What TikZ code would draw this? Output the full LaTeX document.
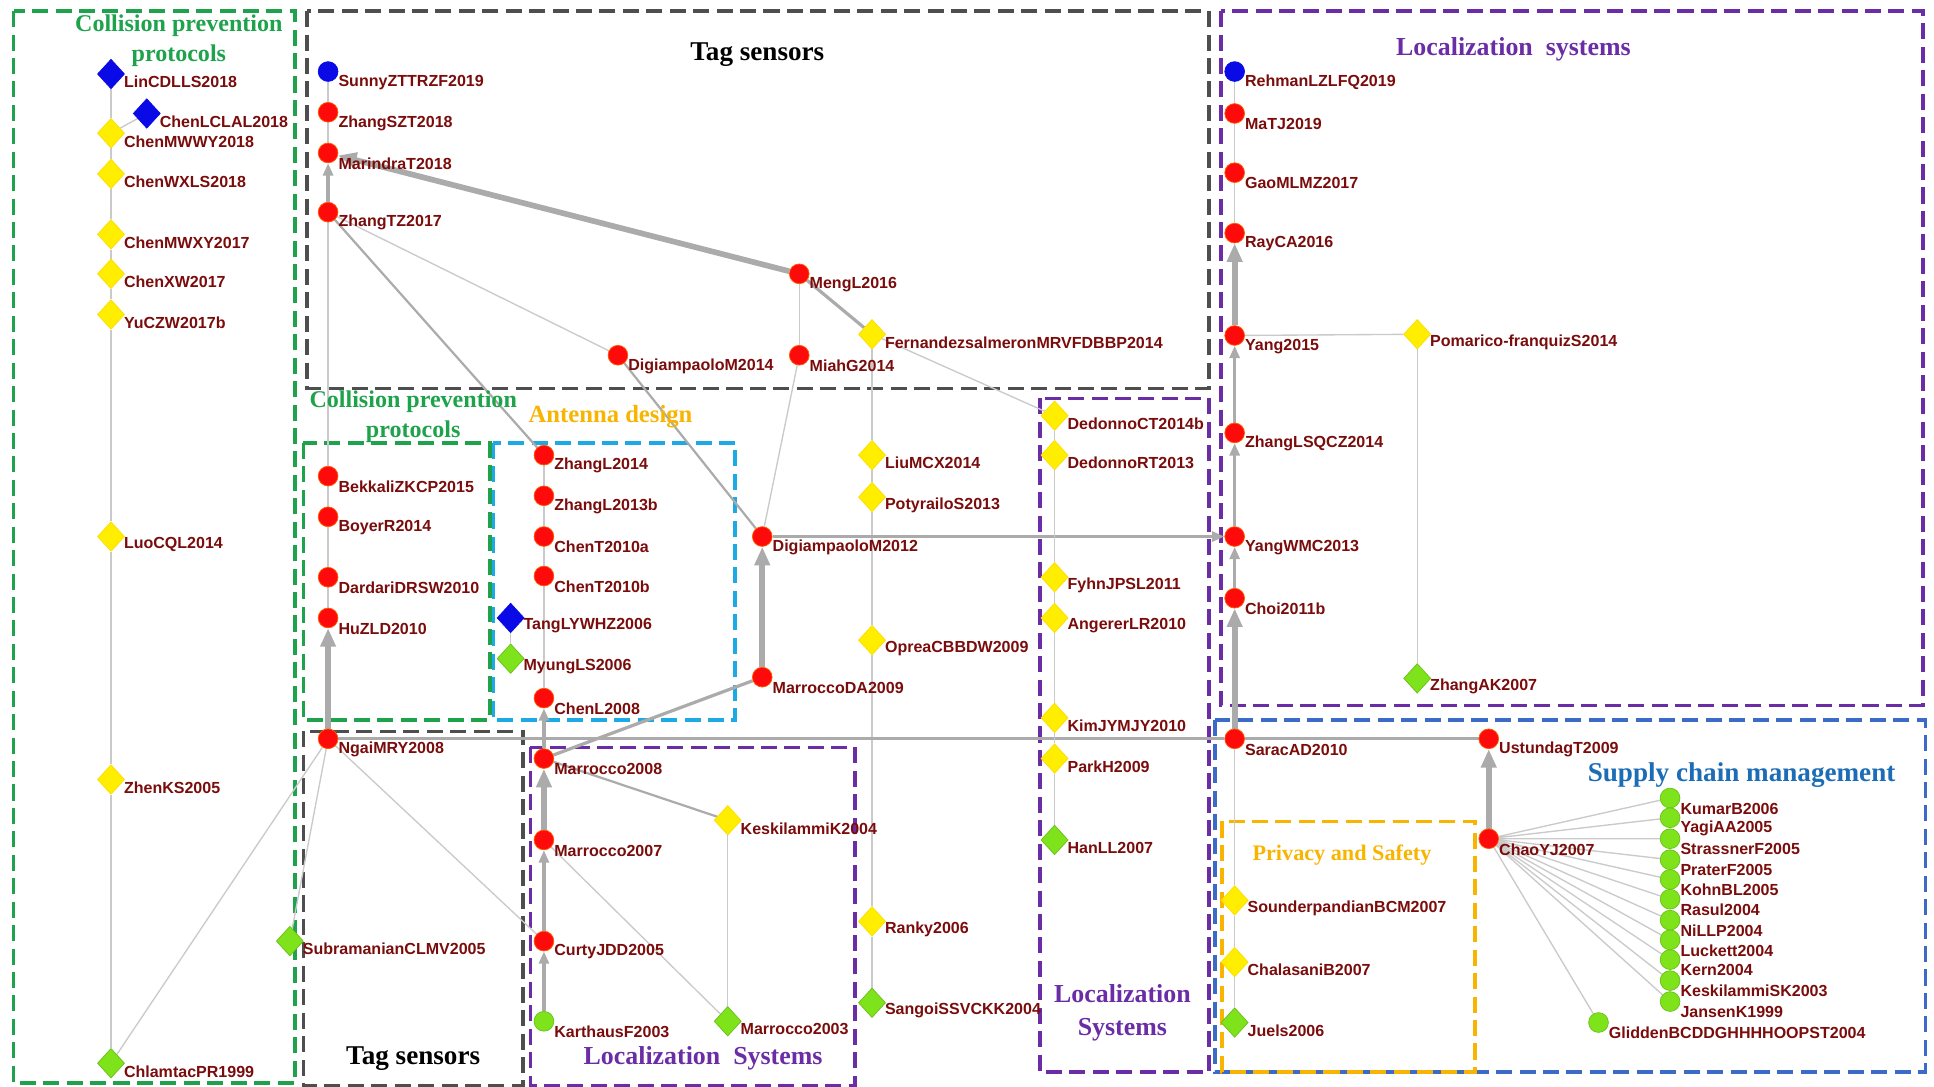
\documentclass[tikz,border=0pt]{standalone}
\usepackage{fontspec}
\setmainfont{Liberation Serif}
\newfontfamily\lblfont{Liberation Sans}
\usetikzlibrary{arrows.meta,shapes.geometric}
\definecolor{lblred}{HTML}{7A0C0C}
\definecolor{refgray}{HTML}{CACACA}
\definecolor{refdark}{HTML}{ABABAB}
\definecolor{grpgreen}{HTML}{1EA34C}
\definecolor{grpgray}{HTML}{4E4E4E}
\definecolor{grpcyan}{HTML}{1DA9E4}
\definecolor{grppurple}{HTML}{6A2DA6}
\definecolor{grpblue}{HTML}{3B6BC6}
\definecolor{grporange}{HTML}{F8B400}
\definecolor{ttlblue}{HTML}{1C6DB6}
\definecolor{nodered}{HTML}{FF0A0A}
\definecolor{nodeyellow}{HTML}{FFEE00}
\definecolor{nodegreen}{HTML}{7FE31C}
\definecolor{nodeblue}{HTML}{0A0AE6}
\pgfdeclarelayer{background}
\pgfsetlayers{background,main}
\newcommand{\ttlfont}[2]{\bfseries\fontsize{#1}{#2}\selectfont}

\begin{document}
\begin{tikzpicture}[x=1pt, y=-1pt, label distance=3pt,
	lbl/.style={font=\lblfont\bfseries\fontsize{13}{14}\selectfont, text=lblred, inner sep=1pt, anchor=west},
	pname/.style={label={[lbl]-50:#1}},
	dname/.style={label={[lbl]-35:#1}},
	rednode/.style={circle, fill=nodered, draw=orange!70!red, line width=0.6pt, minimum size=16pt, inner sep=0pt, pname=#1},
	bluenode/.style={rednode=#1, fill=nodeblue, draw=nodeblue},
	greennode/.style={rednode=#1, fill=nodegreen, draw=nodegreen!85!black},
	yeldiam/.style={diamond, fill=nodeyellow, draw=yellow!80!orange, line width=0.6pt, minimum width=22pt, minimum height=24pt, inner sep=0pt, label distance=5pt, dname=#1},
	greendiam/.style={yeldiam=#1, fill=nodegreen, draw=nodegreen!85!black},
	bluediam/.style={yeldiam=#1, fill=nodeblue, draw=nodeblue},
	cite/.style={draw=refgray, line width=1.1pt},
	cites/.style={draw=refdark, line width=1.8pt},
	citem/.style={draw=refdark, line width=2.6pt},
	citema/.style={citem, -{Triangle[length=10pt,width=8pt]}},
	citet/.style={draw=refdark, line width=4.6pt, -{Triangle[length=15pt,width=12pt]}},
	grp/.style={draw=#1, line width=3pt, dash pattern=on 13pt off 6pt},
	ttl/.style={text=#1, align=center, inner sep=0pt}]
	\useasboundingbox (0,0) rectangle (1568,881);

	\begin{pgfonlayer}{background}
		\draw[grp=grpgreen] (11,9) rectangle (239,878);
		\draw[grp=grpgray] (249,9) rectangle (980,315);
		\draw[grp=grpgreen] (246,359) rectangle (397,584);
		\draw[grp=grpcyan] (400,359) rectangle (596,584);
		\draw[grp=grpgray] (246,593) rectangle (424,880);
		\draw[grp=grppurple] (430,606) rectangle (693,880);
		\draw[grp=grppurple] (843,323) rectangle (980,869);
		\draw[grp=grppurple] (990,9) rectangle (1559,572);
		\draw[grp=grpblue] (985,584) rectangle (1561,869);
		\draw[grp=grporange] (991,666) rectangle (1196,869);
	\end{pgfonlayer}

	\node[ttl=grpgreen, font=\ttlfont{19.5}{24}] (cpp1) at (145,33) {Collision prevention\\protocols};
	\node[ttl=black, font=\ttlfont{22}{26}] (tag1) at (614,44) {Tag sensors};
	\node[ttl=grppurple, font=\ttlfont{21}{26}] (loc1) at (1227,40) {Localization\ \ systems};
	\node[ttl=grpgreen, font=\ttlfont{19.5}{24}] (cpp2) at (335,338) {Collision prevention\\protocols};
	\node[ttl=grporange, font=\ttlfont{20}{24}] (ant1) at (495,338) {Antenna design};
	\node[ttl=black, font=\ttlfont{22}{26}] (tag2) at (335,858) {Tag sensors};
	\node[ttl=grppurple, font=\ttlfont{21}{26}] (loc2) at (570,858) {Localization\ \ Systems};
	\node[ttl=grppurple, font=\ttlfont{21}{27}] (loc3) at (910,821) {Localization\\Systems};
	\node[ttl=grporange, font=\ttlfont{18}{22}] (prv1) at (1088,693) {Privacy and Safety};
	\node[ttl=ttlblue, font=\ttlfont{22}{26}] (scm1) at (1412,628) {Supply chain management};

	\node[bluediam=LinCDLLS2018] (lin) at (90,60) {};
	\node[bluediam=ChenLCLAL2018] (chenlc) at (119,92) {};
	\node[yeldiam=ChenMWWY2018] (chenmwwy) at (90,108) {};
	\node[yeldiam=ChenWXLS2018] (chenwxls) at (90,141) {};
	\node[yeldiam=ChenMWXY2017] (chenmwxy) at (90,190) {};
	\node[yeldiam=ChenXW2017] (chenxw) at (90,222) {};
	\node[yeldiam=YuCZW2017b] (yuczw) at (90,255) {};
	\node[yeldiam=LuoCQL2014] (luo) at (90,435) {};
	\node[yeldiam=ZhenKS2005] (zhenks) at (90,632) {};
	\node[greendiam=ChlamtacPR1999] (chlamtac) at (90,862) {};

	\node[bluenode=SunnyZTTRZF2019] (sunny) at (266,58) {};
	\node[rednode=ZhangSZT2018] (zhangszt) at (266,91) {};
	\node[rednode=MarindraT2018] (marindra) at (266,124) {};
	\node[rednode=ZhangTZ2017] (zhangtz) at (266,172) {};
	\node[rednode=BekkaliZKCP2015] (bekkali) at (266,386) {};
	\node[rednode=BoyerR2014] (boyer) at (266,419) {};
	\node[rednode=DardariDRSW2010] (dardari) at (266,468) {};
	\node[rednode=HuZLD2010] (huzld) at (266,501) {};
	\node[rednode=NgaiMRY2008] (ngai) at (266,599) {};
	\node[greendiam=SubramanianCLMV2005] (subra) at (235,763) {};

	\node[rednode=DigiampaoloM2014] (dig14) at (501,288) {};
	\node[rednode=MengL2016] (meng) at (648,222) {};
	\node[rednode=MiahG2014] (miah) at (648,288) {};
	\node[yeldiam=FernandezsalmeronMRVFDBBP2014] (fern) at (707,271) {};
	\node[rednode=DigiampaoloM2012] (dig12) at (618,435) {};
	\node[rednode=MarroccoDA2009] (marda) at (618,549) {};

	\node[rednode=ZhangL2014] (zl14) at (441,369) {};
	\node[rednode=ZhangL2013b] (zl13) at (441,402) {};
	\node[rednode=ChenT2010a] (ct10a) at (441,435) {};
	\node[rednode=ChenT2010b] (ct10b) at (441,467) {};
	\node[bluediam=TangLYWHZ2006] (tang) at (414,501) {};
	\node[greendiam=MyungLS2006] (myung) at (414,534) {};
	\node[rednode=ChenL2008] (cl08) at (441,566) {};
	\node[rednode=Marrocco2008] (mar08) at (441,615) {};
	\node[rednode=Marrocco2007] (mar07) at (441,681) {};
	\node[rednode=CurtyJDD2005] (curty) at (441,763) {};
	\node[greennode=KarthausF2003] (karth) at (441,828) {};
	\node[yeldiam=KeskilammiK2004] (kesk) at (590,665) {};
	\node[greendiam=Marrocco2003] (mar03) at (590,828) {};

	\node[yeldiam=LiuMCX2014] (liu) at (707,369) {};
	\node[yeldiam=PotyrailoS2013] (poty) at (707,403) {};
	\node[yeldiam=OpreaCBBDW2009] (oprea) at (707,519) {};
	\node[yeldiam=Ranky2006] (ranky) at (707,747) {};
	\node[greendiam=SangoiSSVCKK2004] (sangoi) at (707,813) {};

	\node[yeldiam=DedonnoCT2014b] (dedct) at (855,337) {};
	\node[yeldiam=DedonnoRT2013] (dedrt) at (855,369) {};
	\node[yeldiam=FyhnJPSL2011] (fyhn) at (855,468) {};
	\node[yeldiam=AngererLR2010] (anger) at (855,501) {};
	\node[yeldiam=KimJYMJY2010] (kim) at (855,582) {};
	\node[yeldiam=ParkH2009] (park) at (855,615) {};
	\node[greendiam=HanLL2007] (han) at (855,681) {};

	\node[bluenode=RehmanLZLFQ2019] (rehman) at (1001,58) {};
	\node[rednode=MaTJ2019] (matj) at (1001,92) {};
	\node[rednode=GaoMLMZ2017] (gao) at (1001,140) {};
	\node[rednode=RayCA2016] (ray) at (1001,189) {};
	\node[rednode=Yang2015] (yang15) at (1001,272) {};
	\node[rednode=ZhangLSQCZ2014] (zlsq) at (1001,351) {};
	\node[rednode=YangWMC2013] (ywmc) at (1001,435) {};
	\node[rednode=Choi2011b] (choi) at (1001,485) {};
	\node[rednode=SaracAD2010] (sarac) at (1001,599) {};
	\node[yeldiam=SounderpandianBCM2007] (sounder) at (1001,730) {};
	\node[yeldiam=ChalasaniB2007] (chal) at (1001,780) {};
	\node[greendiam=Juels2006] (juels) at (1001,829) {};
	\node[yeldiam=Pomarico-franquizS2014] (pom) at (1149,271) {};
	\node[greendiam=ZhangAK2007] (zak) at (1149,550) {};
	\node[rednode=UstundagT2009] (ust) at (1207,599) {};
	\node[rednode=ChaoYJ2007] (chao) at (1207,680) {};

	\node[greennode=KumarB2006] (kumar) at (1354,647) {};
	\node[greennode=YagiAA2005] (yagi) at (1354,663) {};
	\node[greennode=StrassnerF2005] (strass) at (1354,680) {};
	\node[greennode=PraterF2005] (prater) at (1354,697) {};
	\node[greennode=KohnBL2005] (kohn) at (1354,713) {};
	\node[greennode=Rasul2004] (rasul) at (1354,729) {};
	\node[greennode=NiLLP2004] (nillp) at (1354,746) {};
	\node[greennode=Luckett2004] (luck) at (1354,762) {};
	\node[greennode=Kern2004] (kern) at (1354,778) {};
	\node[greennode=KeskilammiSK2003] (kesksk) at (1354,795) {};
	\node[greennode=JansenK1999] (jansen) at (1354,812) {};
	\node[greennode=GliddenBCDDGHHHHOOPST2004] (glidden) at (1296,829) {};

	\begin{pgfonlayer}{background}
		\draw[cite] (chlamtac) -- (zhenks) -- (luo) -- (yuczw) -- (chenxw) -- (chenmwxy) -- (chenwxls) -- (chenmwwy) -- (lin);
		\draw[cite] (chenmwwy) -- (chenlc);
		\draw[cite] (chlamtac) -- (ngai);

		\draw[citet] (ngai) -- (huzld);
		\draw[cite] (huzld) -- (dardari) -- (boyer) -- (bekkali) -- (zhangtz);
		\draw[citema] (zhangtz) -- (marindra);
		\draw[cite] (marindra) -- (zhangszt) -- (sunny);
		\draw[citet] (meng) -- (marindra);
		\draw[cite] (meng) -- (miah);
		\draw[citem] (fern) -- (meng);
		\draw[cites] (zl14) -- (zhangtz);
		\draw[cite] (dig14) -- (zhangtz);
		\draw[cites] (dig12) -- (dig14);
		\draw[cite] (dig12) -- (miah);
		\draw[cite] (fern) -- (dedct);
		\draw[cite] (sangoi) -- (ranky) -- (oprea) -- (poty) -- (liu) -- (fern);
		\draw[citet] (marda) -- (dig12);
		\draw[citema] (dig12) -- (ywmc);
		\draw[citem] (mar08) -- (marda);
		\draw[citem] (ngai) -- (sarac);
		\draw[citem] (ust) -- (sarac);
		\draw[citet] (chao) -- (ust);

		\draw[cite] (cl08) -- (ct10b) -- (ct10a) -- (zl13) -- (zl14);
		\draw[citema] (mar08) -- (cl08);
		\draw[citet] (mar07) -- (mar08);
		\draw[citema] (curty) -- (mar07);
		\draw[citema] (karth) -- (curty);
		\draw[cite] (myung) -- (tang);
		\draw[cites] (kesk) -- (mar08);
		\draw[cite] (mar03) -- (kesk);
		\draw[cite] (mar03) -- (mar07);
		\draw[cite] (curty) -- (ngai);
		\draw[cite] (subra) -- (ngai);

		\draw[cite] (han) -- (park) -- (kim) -- (anger) -- (fyhn) -- (dedrt) -- (dedct);

		\draw[cite] (ray) -- (gao) -- (matj) -- (rehman);
		\draw[citet] (yang15) -- (ray);
		\draw[citema] (zlsq) -- (yang15);
		\draw[citema] (ywmc) -- (zlsq);
		\draw[citema] (choi) -- (ywmc);
		\draw[citet] (sarac) -- (choi);
		\draw[cite] (juels) -- (chal) -- (sounder) -- (sarac);
		\draw[cite] (pom) -- (yang15);
		\draw[cite] (zak) -- (pom);
		\draw[cite] (chao) -- (kumar) (chao) -- (yagi) (chao) -- (strass) (chao) -- (prater)
			(chao) -- (kohn) (chao) -- (rasul) (chao) -- (nillp) (chao) -- (luck)
			(chao) -- (kern) (chao) -- (kesksk) (chao) -- (jansen) (chao) -- (glidden);
	\end{pgfonlayer}
\end{tikzpicture}
\end{document}
